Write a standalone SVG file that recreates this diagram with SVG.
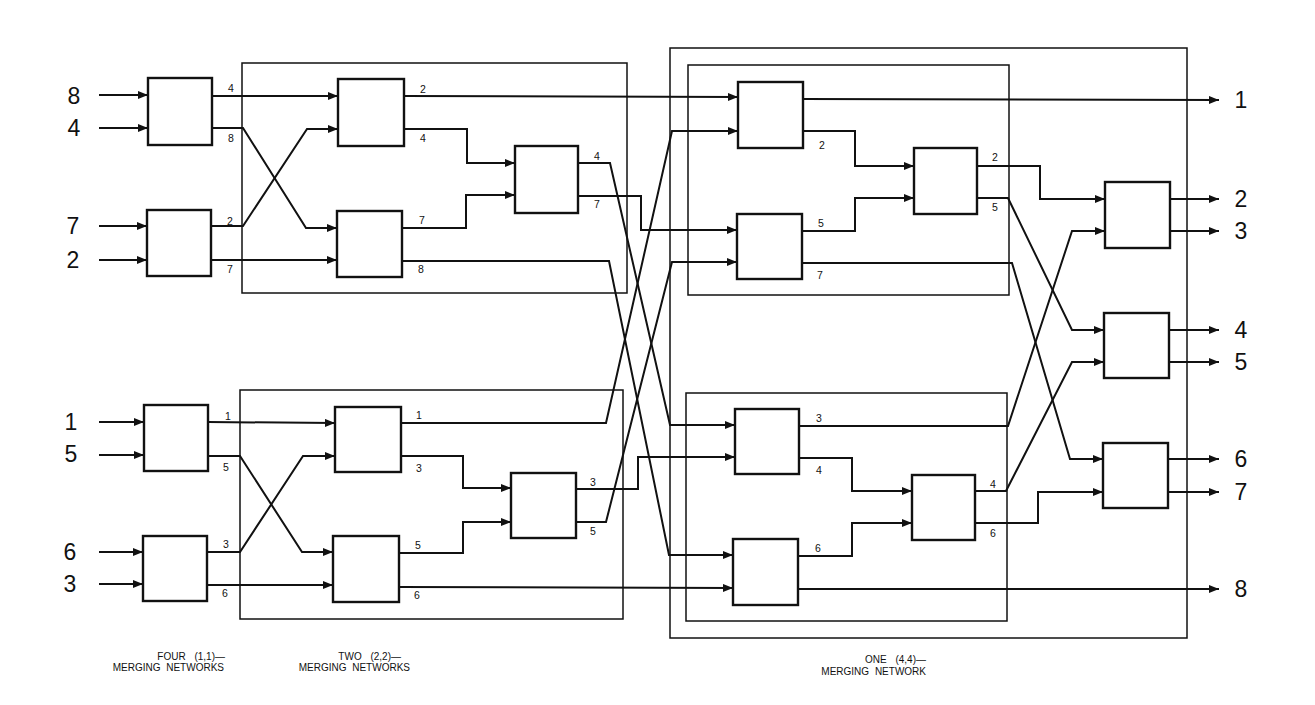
<svg xmlns="http://www.w3.org/2000/svg" width="1315" height="705" viewBox="0 0 1315 705">
<style>
.box{fill:#fff;stroke:#111;stroke-width:2.4}
.frame{fill:none;stroke:#111;stroke-width:1.5}
.w{fill:none;stroke:#111;stroke-width:2;stroke-linejoin:miter}
.a{marker-end:url(#ah)}
.n{font-family:"Liberation Sans",Arial,sans-serif;font-size:10.5px;fill:#111;text-anchor:middle}
.big{font-family:"Liberation Sans",Arial,sans-serif;font-size:23px;fill:#111;text-anchor:middle}
.cap{font-family:"Liberation Sans",Arial,sans-serif;font-size:10px;fill:#111;text-anchor:end;word-spacing:3px}
</style>
<defs>
<marker id="ah" markerUnits="userSpaceOnUse" markerWidth="10" markerHeight="8" refX="10" refY="4" orient="auto">
<path d="M0,0 L10,4 L0,8 z" fill="#111"/>
</marker>
</defs>
<rect width="1315" height="705" fill="#fff"/>

<g id="frames">
<rect class="frame" x="242" y="63" width="385" height="230"/>
<rect class="frame" x="240" y="390" width="383" height="229"/>
<rect class="frame" x="670" y="48" width="517" height="590"/>
<rect class="frame" x="688" y="65" width="321" height="230"/>
<rect class="frame" x="686" y="393" width="321" height="228"/>
</g>

<g id="connectors">
<polyline class="w a" points="99,95 148,95"/>
<polyline class="w a" points="99,128 148,128"/>
<polyline class="w a" points="99,226 147,226"/>
<polyline class="w a" points="99,260 147,260"/>
<polyline class="w a" points="99,422 144,422"/>
<polyline class="w a" points="99,455 144,455"/>
<polyline class="w a" points="99,552 143,552"/>
<polyline class="w a" points="99,584 143,584"/>

<polyline class="w a" points="212,96 338,96"/>
<polyline class="w a" points="212,128 243,128 306,228 337,228"/>
<polyline class="w a" points="211,226 243,226 307,129 338,129"/>
<polyline class="w a" points="211,260 337,260"/>
<polyline class="w a" points="208,422 335,423"/>
<polyline class="w a" points="208,456 240,456 302,552 333,552"/>
<polyline class="w a" points="207,552 240,552 303,456 335,456"/>
<polyline class="w a" points="207,585 333,585"/>

<polyline class="w a" points="404,129 467,129 467,163 515,163"/>
<polyline class="w a" points="402,228 466,228 466,195 515,195"/>
<polyline class="w a" points="401,456 463,456 463,488 511,488"/>
<polyline class="w a" points="399,553 463,553 463,522 511,522"/>

<polyline class="w a" points="404,96 738,97"/>
<polyline class="w a" points="578,163 610,163 670,425 735,425"/>
<polyline class="w a" points="578,196 641,196 641,230 737,230"/>
<polyline class="w a" points="402,261 609,261 669,555 733,555"/>
<polyline class="w a" points="401,423 606,423 672,131 738,131"/>
<polyline class="w a" points="576,489 638,489 638,457 735,457"/>
<polyline class="w a" points="576,522 606,522 672,262 737,262"/>
<polyline class="w a" points="399,587 733,588"/>

<polyline class="w a" points="803,131 855,131 855,166 914,166"/>
<polyline class="w a" points="802,231 855,231 855,198 914,198"/>
<polyline class="w a" points="799,458 852,458 852,491 912,491"/>
<polyline class="w a" points="798,556 852,556 852,523 912,523"/>

<polyline class="w a" points="803,99 1219,100"/>
<polyline class="w a" points="977,166 1040,166 1040,199 1105,199"/>
<polyline class="w a" points="977,198 1008,198 1072,330 1104,330"/>
<polyline class="w a" points="802,263 1012,263 1070,459 1103,459"/>
<polyline class="w a" points="799,426 1008,426 1072,231 1105,231"/>
<polyline class="w a" points="975,491 1006,491 1072,362 1104,362"/>
<polyline class="w a" points="975,523 1038,523 1038,492 1103,492"/>
<polyline class="w a" points="798,589 1219,589"/>

<polyline class="w a" points="1170,199 1219,199"/>
<polyline class="w a" points="1170,231 1219,231"/>
<polyline class="w a" points="1169,330 1219,330"/>
<polyline class="w a" points="1169,362 1219,362"/>
<polyline class="w a" points="1168,459 1219,459"/>
<polyline class="w a" points="1168,492 1219,492"/>
</g>

<g id="A"><rect class="box" x="148" y="78" width="64" height="67"/><text class="n" x="231" y="92">4</text><text class="n" x="231" y="142">8</text></g>
<g id="B"><rect class="box" x="147" y="210" width="64" height="66"/><text class="n" x="230" y="225">2</text><text class="n" x="230" y="273">7</text></g>
<g id="C"><rect class="box" x="144" y="405" width="64" height="66"/><text class="n" x="228" y="420">1</text><text class="n" x="226" y="471">5</text></g>
<g id="D"><rect class="box" x="143" y="536" width="64" height="65"/><text class="n" x="226" y="548">3</text><text class="n" x="225" y="597">6</text></g>
<g id="E"><rect class="box" x="338" y="79" width="66" height="67"/><text class="n" x="423" y="93">2</text><text class="n" x="423" y="142">4</text></g>
<g id="F"><rect class="box" x="337" y="211" width="65" height="66"/><text class="n" x="422" y="224">7</text><text class="n" x="421" y="273">8</text></g>
<g id="G"><rect class="box" x="515" y="146" width="63" height="67"/><text class="n" x="597" y="160">4</text><text class="n" x="597" y="208">7</text></g>
<g id="H"><rect class="box" x="335" y="407" width="66" height="65"/><text class="n" x="419" y="419">1</text><text class="n" x="419" y="472">3</text></g>
<g id="I"><rect class="box" x="333" y="536" width="66" height="66"/><text class="n" x="418" y="549">5</text><text class="n" x="417" y="599">6</text></g>
<g id="J"><rect class="box" x="511" y="473" width="65" height="65"/><text class="n" x="593" y="486">3</text><text class="n" x="593" y="535">5</text></g>
<g id="K"><rect class="box" x="738" y="82" width="65" height="66"/><text class="n" x="822" y="149">2</text></g>
<g id="L"><rect class="box" x="737" y="214" width="65" height="65"/><text class="n" x="821" y="227">5</text><text class="n" x="820" y="279">7</text></g>
<g id="M"><rect class="box" x="914" y="148" width="63" height="66"/><text class="n" x="995" y="161">2</text><text class="n" x="995" y="211">5</text></g>
<g id="N"><rect class="box" x="735" y="409" width="64" height="65"/><text class="n" x="819" y="422">3</text><text class="n" x="819" y="474">4</text></g>
<g id="O"><rect class="box" x="733" y="539" width="65" height="66"/><text class="n" x="818" y="552">6</text></g>
<g id="P"><rect class="box" x="912" y="475" width="63" height="65"/><text class="n" x="993" y="488">4</text><text class="n" x="993" y="537">6</text></g>
<g id="Q"><rect class="box" x="1105" y="182" width="65" height="66"/></g>
<g id="R"><rect class="box" x="1104" y="313" width="65" height="65"/></g>
<g id="S"><rect class="box" x="1103" y="443" width="65" height="65"/></g>

<g id="inputs">
<text class="big" x="74" y="104">8</text>
<text class="big" x="74" y="136">4</text>
<text class="big" x="73" y="234">7</text>
<text class="big" x="73" y="268">2</text>
<text class="big" x="71" y="430">1</text>
<text class="big" x="71" y="462">5</text>
<text class="big" x="70" y="560">6</text>
<text class="big" x="70" y="592">3</text>
</g>
<g id="outputs">
<text class="big" x="1241" y="108">1</text>
<text class="big" x="1241" y="207">2</text>
<text class="big" x="1241" y="239">3</text>
<text class="big" x="1241" y="338">4</text>
<text class="big" x="1241" y="370">5</text>
<text class="big" x="1241" y="467">6</text>
<text class="big" x="1241" y="500">7</text>
<text class="big" x="1241" y="597">8</text>
</g>

<g id="captions">
<text class="cap" x="225" y="660" style="word-spacing:6px">FOUR (1,1)—</text>
<text class="cap" x="224" y="671">MERGING NETWORKS</text>
<text class="cap" x="401" y="660" style="word-spacing:6px">TWO (2,2)—</text>
<text class="cap" x="410" y="671">MERGING NETWORKS</text>
<text class="cap" x="926" y="663" style="word-spacing:6px">ONE (4,4)—</text>
<text class="cap" x="926" y="675">MERGING NETWORK</text>
</g>
</svg>
